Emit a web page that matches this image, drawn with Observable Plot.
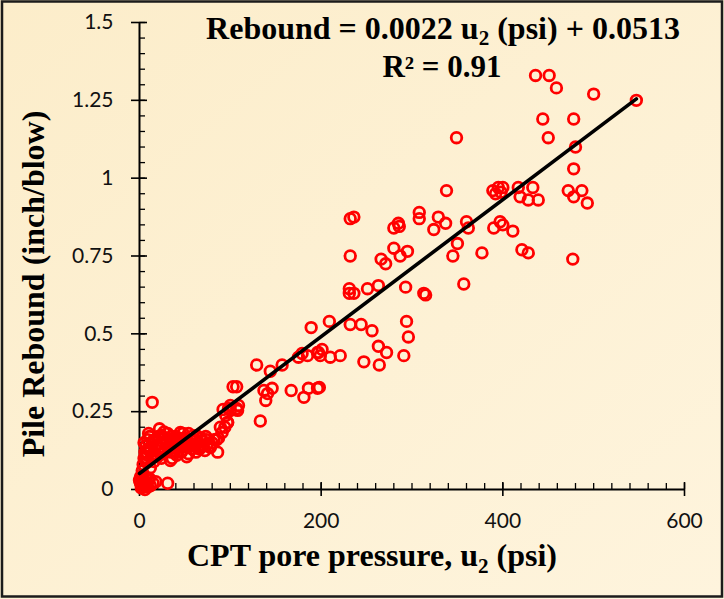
<!DOCTYPE html>
<html>
<head>
<meta charset="utf-8">
<script src="https://cdn.jsdelivr.net/npm/d3@7"></script>
<script src="https://cdn.jsdelivr.net/npm/@observablehq/plot@0.6"></script>
<style>
  body { margin: 0; background: #fff; }
  #chart svg { display: block; }
</style>
</head>
<body>
<div id="chart"></div>
<script>
// CPT pore pressure u2 (psi) and measured pile rebound (inch/blow), one entry per record
const porePressure = [
  0, 1, 2, 3, 4, 5, 6, 7, 8, 10, 12, 2, 4, 1, 9, 15, 18, 31, 11, 6,
  3, 4, 5, 6, 7, 7, 8, 9, 10, 11, 12, 12, 13, 14, 15, 16, 18, 20, 21, 22,
  23, 24, 25, 26, 28, 29, 31, 32, 33, 34, 35, 36, 37, 38, 40, 41, 42, 44, 45, 46,
  47, 48, 49, 50, 51, 52, 54, 54, 56, 58, 59, 60, 62, 63, 65, 66, 67, 68, 70, 72,
  73, 75, 78, 78, 80, 82, 85, 86, 87, 89, 91, 92, 94, 95, 97, 97, 98, 100, 100, 103,
  107, 108, 109, 107,
  5, 8, 11, 14, 17, 19, 24, 27, 30, 35, 39, 43, 53, 57, 61, 64, 69, 74, 9, 20,
  27, 43,
  129, 133, 137, 139, 141, 144, 146, 157, 167, 175, 179, 181, 185, 186, 189, 196,
  196, 197, 198, 199, 201, 209, 210, 221,
  231, 231, 232, 232, 232, 236, 236, 244, 247, 251, 256, 263, 263, 264, 266, 271,
  272, 280, 280, 285, 286, 287, 291, 293, 294, 295, 296, 308, 308, 313, 315, 324,
  329, 337, 338, 345, 349, 350, 357, 360, 362, 377,
  389, 392, 395, 398, 400, 390, 397, 400, 411, 417, 419, 421, 428, 428, 433, 436,
  439, 444, 450, 451, 459, 472, 477, 478, 478, 478, 480, 487, 493, 500, 547
];
const rebound = [
  0.03, 0.02, 0.035, 0.01, 0.025, 0.03, 0.015, 0.04, 0.02, 0.03, 0.012, 0.005, 0.045, 0.04, 0.008, 0.02, 0.025, 0.02, 0.035, 0.0,
  0.06, 0.08, 0.1, 0.12, 0.14, 0.103, 0.087, 0.16, 0.18, 0.13, 0.135, 0.07, 0.11, 0.28, 0.157, 0.09, 0.14, 0.125, 0.17, 0.195,
  0.148, 0.1, 0.165, 0.115, 0.13, 0.15, 0.18, 0.135, 0.16, 0.093, 0.12, 0.1, 0.157, 0.14, 0.17, 0.11, 0.135, 0.15, 0.183, 0.12,
  0.125, 0.18, 0.165, 0.14, 0.148, 0.105, 0.18, 0.115, 0.16, 0.13, 0.173, 0.145, 0.12, 0.173, 0.15, 0.13, 0.14, 0.165, 0.14, 0.125,
  0.17, 0.148, 0.135, 0.14, 0.15, 0.16, 0.16, 0.12, 0.165, 0.2, 0.183, 0.257, 0.2, 0.238, 0.215, 0.215, 0.26, 0.27, 0.254, 0.33,
  0.26, 0.254, 0.27, 0.33,
  0.15, 0.12, 0.17, 0.145, 0.16, 0.11, 0.175, 0.12, 0.155, 0.17, 0.125, 0.165, 0.15, 0.14, 0.16, 0.135, 0.155, 0.16, 0.13, 0.105,
  0.185, 0.14,
  0.40, 0.22, 0.318, 0.286, 0.308, 0.38, 0.325, 0.40, 0.318, 0.425, 0.437, 0.296, 0.43, 0.325, 0.52, 0.325,
  0.44, 0.44, 0.328, 0.43, 0.45, 0.54, 0.425, 0.43,
  0.645, 0.63, 0.75, 0.87, 0.53, 0.875, 0.63, 0.53, 0.41, 0.645, 0.51, 0.655, 0.46, 0.40, 0.74, 0.725,
  0.44, 0.84, 0.775, 0.855, 0.845, 0.75, 0.43, 0.65, 0.54, 0.765, 0.49, 0.89, 0.87, 0.63, 0.625, 0.835,
  0.875, 0.855, 0.96, 0.75, 1.13, 0.79, 0.66, 0.86, 0.84, 0.76,
  0.96, 0.95, 0.97, 0.955, 0.97, 0.84, 0.86, 0.85, 0.83, 0.97, 0.94, 0.77, 0.76, 0.93, 0.97, 1.33,
  0.93, 1.19, 1.13, 1.33, 1.29, 0.96, 0.74, 0.94, 1.19, 1.03, 1.10, 0.96, 0.92, 1.27, 1.25
];

// Linear fit reported on the chart
const fitSlope = 0.0022;
const fitIntercept = 0.0513;
const fitR2 = 0.91;

// Axis ticks
const xTicks = [0, 200, 400, 600];
const xMinorTicks = d3.range(0, 601, 20);
const yTicks = [0, 0.25, 0.5, 0.75, 1, 1.25, 1.5];
const yMinorTicks = d3.range(0, 31).map(i => i / 20);

const records = porePressure.map((u, i) => ({u, rebound: rebound[i]}));
const fitLine = [d3.min(porePressure), d3.max(porePressure)]
  .map(u => ({u, rebound: fitSlope * u + fitIntercept}));

const W = 724, H = 599;
const tickFont = "Lato, 'Open Sans', sans-serif";
const titleFont = "'Liberation Serif', 'Times New Roman', serif";

const chart = Plot.plot({
  width: W,
  height: H,
  marginLeft: 139,
  marginRight: 40,
  marginTop: 22,
  marginBottom: 110,
  style: {background: "transparent", overflow: "visible"},
  x: {domain: [0, 600]},
  y: {domain: [0, 1.5]},
  marks: [
    // minor ticks point into the plot area
    Plot.ruleX(xMinorTicks, {x: d => d, y1: 0, y2: 0, insetTop: -6, stroke: "#000", strokeWidth: 1.3}),
    Plot.ruleY(yMinorTicks, {y: d => d, x1: 0, x2: 0, insetRight: -6, stroke: "#000", strokeWidth: 1.3}),
    // major ticks cross the axis line
    Plot.ruleX(xTicks, {x: d => d, y1: 0, y2: 0, insetTop: -7, insetBottom: -7, stroke: "#000", strokeWidth: 1.6}),
    Plot.ruleY(yTicks, {y: d => d, x1: 0, x2: 0, insetLeft: -8, insetRight: -8, stroke: "#000", strokeWidth: 1.6}),
    Plot.ruleY([0], {x1: 0, x2: 600, stroke: "#000", strokeWidth: 2}),
    Plot.ruleX([0], {y1: 0, y2: 1.5, stroke: "#000", strokeWidth: 2}),
    Plot.axisX(xTicks, {tickSize: 0, tickPadding: 24, fontSize: 21, fontFamily: tickFont, fill: "#111", label: null}),
    Plot.axisY(yTicks, {tickSize: 0, tickPadding: 26, fontSize: 21, fontFamily: tickFont, fill: "#111", label: null, tickFormat: d => String(d)}),
    Plot.dot(records, {x: "u", y: "rebound", r: 5.3, stroke: "#ff0000", strokeWidth: 2.8, fill: "none"}),
    Plot.line(fitLine, {x: "u", y: "rebound", stroke: "#000", strokeWidth: 3.6})
  ]
});

const svg = d3.select(chart);

// cream backdrop with a faint diagonal shading, and the outer frame
const defs = svg.insert("defs", ":first-child");
const grad = defs.append("linearGradient").attr("id", "bg")
  .attr("x1", "0").attr("y1", "0").attr("x2", "1").attr("y2", "1");
grad.append("stop").attr("offset", "0").attr("stop-color", "#fcedca");
grad.append("stop").attr("offset", "1").attr("stop-color", "#fef4dd");
svg.insert("rect", "defs + *")
  .attr("x", 0).attr("y", 0).attr("width", W).attr("height", H).attr("fill", "url(#bg)");
svg.append("rect")
  .attr("x", 2).attr("y", 1.5).attr("width", W - 4).attr("height", H - 4)
  .attr("fill", "none").attr("stroke", "#1b1b1b").attr("stroke-width", 2.5);

// bold serif text; an object part is drawn as a subscript
function richText(parent, parts, attrs) {
  const t = parent.append("text")
    .attr("font-family", titleFont).attr("font-weight", "bold")
    .attr("fill", "#000").attr("text-anchor", "middle");
  for (const [k, v] of Object.entries(attrs)) t.attr(k, v);
  let shift = 0;
  for (const p of parts) {
    if (typeof p === "string") {
      t.append("tspan").attr("dy", -shift).text(p);
      shift = 0;
    } else {
      t.append("tspan").attr("dy", p.dy).attr("font-size", "0.66em").text(p.text);
      shift = p.dy;
    }
  }
  return t;
}

// fit equation
richText(svg, [
  `Rebound = ${fitSlope} u`, {text: "2", dy: 6}, ` (psi) + ${fitIntercept}`
], {x: 443, y: 39, "font-size": 32});
richText(svg, [`R\u00B2 = ${fitR2}`], {x: 442, y: 77, "font-size": 31});

// axis titles
richText(svg, ["CPT pore pressure, u", {text: "2", dy: 7}, " (psi)"],
  {x: 372, y: 566, "font-size": 32});
richText(svg, ["Pile Rebound (inch/blow)"],
  {transform: "translate(44,284) rotate(-90)", "font-size": 32});

document.getElementById("chart").append(chart);
</script>
</body>
</html>
